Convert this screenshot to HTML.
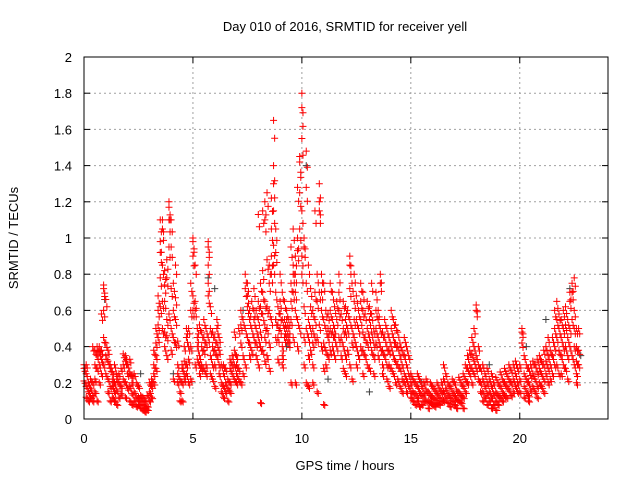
<!DOCTYPE html>
<html><head><meta charset="utf-8"><style>
body{margin:0;background:#fff;}
svg{display:block;font-family:"Liberation Sans",sans-serif;font-size:13px;}
</style></head><body>
<svg id="chart" width="640" height="480" viewBox="0 0 640 480">
<g id="grid"></g>
<g id="ticks"></g>
<g id="marks"></g>
<rect x="84" y="57" width="524" height="362" fill="none" stroke="#000" stroke-width="1"/>
<text x="345" y="31" text-anchor="middle">Day 010 of 2016, SRMTID for receiver yell</text>
<text x="345" y="470" text-anchor="middle">GPS time / hours</text>
<text transform="translate(18,238) rotate(-90)" text-anchor="middle">SRMTID / TECUs</text>
</svg>
<script>
const xTicks=[0,5,10,15,20];
const yTicks=[0,0.2,0.4,0.6,0.8,1,1.2,1.4,1.6,1.8,2];
const yTickLabels=["0","0.2","0.4","0.6","0.8","1","1.2","1.4","1.6","1.8","2"];
const greyPts=[[0.95,.66],[2.6,.25],[5.7,.78],[6.0,.72],[9.3,.4],[10.2,1.4],[11.2,.22],[12.6,.35],[13.1,.15],[20.3,.4],[22.3,.72],[22.8,.35],[8.8,.55],[7.3,.6],[4.1,.25],[15.5,.2],[18.6,.3],[21.2,.55]];
const redRows=[
[0.0,[.28,.21,.3]],[0.1,[.25,.18,.12,.3]],[0.2,[.2,.15,.1]],[0.3,[.17,.12,.22]],[0.4,[.13,.1,.2,.4]],[0.5,[.15,.3,.38,.22]],[0.6,[.35,.4,.28,.1]],[0.7,[.4,.3,.2,.37]],[0.8,[.38,.25,.33,.58]],[0.9,[.74,.72,.45,.6,.3]],
[1.0,[.66,.42,.35,.25]],[1.1,[.32,.22,.15,.38]],[1.2,[.28,.18,.1,.3]],[1.3,[.22,.12,.26,.18]],[1.4,[.2,.1,.3,.15]],[1.5,[.22,.16,.08,.25]],[1.6,[.2,.12,.25]],[1.7,[.18,.28,.14]],[1.8,[.3,.36,.22]],[1.9,[.35,.32,.2,.12]],
[2.0,[.3,.25,.17]],[2.1,[.26,.33,.18,.1]],[2.2,[.2,.14,.24,.08]],[2.3,[.15,.25,.1]],[2.4,[.2,.12,.07]],[2.5,[.12,.08,.18]],[2.6,[.1,.06,.13]],[2.7,[.08,.05,.12]],[2.8,[.1,.06,.04]],[2.9,[.07,.13,.05]],
[3.0,[.1,.2,.15]],[3.1,[.22,.18,.12]],[3.2,[.3,.25,.2,.38]],[3.3,[.42,.35,.5,.28]],[3.4,[.6,.52,.68,.45]],[3.5,[1.1,.92,.98,.78,.62]],[3.6,[1.05,1.1,.85,.65,.5]],[3.7,[.65,.48,.82,.74,.4]],[3.8,[.88,.78,.55,.46,.35]],[3.9,[1.2,1.17,1.1,.95,.58]],
[4.0,[1.1,.95,.72,.5,.38]],[4.1,[.75,.6,.45,.22]],[4.2,[.85,.67,.55,.42]],[4.3,[.43,.3,.2,.25]],[4.4,[.22,.1,.15]],[4.5,[.1,.2,.28,.3]],[4.6,[.25,.32,.22,.4]],[4.7,[.3,.45,.5,.25]],[4.8,[.5,.33,.4,.2]],[4.9,[.4,.75,.6,.22]],
[5.0,[1.0,.98,.9,.68,.6]],[5.1,[.65,.6,.85,.3]],[5.2,[.45,.5,.4,.33]],[5.3,[.52,.35,.3,.25]],[5.4,[.4,.3,.48,.28]],[5.5,[.38,.28,.45,.55]],[5.6,[.5,.42,.3,.25]],[5.7,[.98,.95,.85,.75,.68,.45]],[5.8,[.62,.5,.35,.25]],[5.9,[.48,.4,.22,.3]],
[6.0,[.38,.45,.3,.18]],[6.1,[.5,.42,.35,.55]],[6.2,[.45,.38,.3,.25]],[6.3,[.3,.2,.15]],[6.4,[.25,.18,.12,.3]],[6.5,[.2,.15,.28]],[6.6,[.22,.17,.1]],[6.7,[.33,.28,.2,.15]],[6.8,[.35,.3,.25]],[6.9,[.3,.38,.22,.48]],
[7.0,[.3,.25,.35,.2]],[7.1,[.28,.22,.5]],[7.2,[.6,.52,.42,.2]],[7.3,[.55,.35,.25]],[7.4,[.72,.8,.5,.3]],[7.5,[.75,.68,.62,.45]],[7.6,[.6,.55,.42,.35]],[7.7,[.65,.5,.38]],[7.8,[.6,.55,.45,.72]],[7.9,[.5,.42,.35,.6]],
[8.0,[.65,.55,.45,.3,1.13]],[8.1,[.75,.62,.48,.4,.09]],[8.2,[.7,.58,.38,.82,1.15]],[8.3,[.65,.52,.45,.32,1.1,1.2]],[8.4,[.88,.62,.5,.35,1.25]],[8.5,[.75,.6,.42,.85,.28]],[8.6,[1.05,.9,.8,.55,1.22]],[8.7,[1.65,1.4,1.3,1.15,.96,.85]],[8.8,[1.05,.92,.7,.55,.45]],[8.9,[.62,.52,.45,.33]],
[9.0,[.65,.58,.5,.8]],[9.1,[.7,.55,.4,.35,.3]],[9.2,[.65,.55,.5,.45]],[9.3,[.6,.5,.45,.55]],[9.4,[.55,.5,.45,.42]],[9.5,[.95,.75,.65,.55,.2]],[9.6,[.85,1.05,.8,.7,.45]],[9.7,[.8,.9,.7,.6,.2]],[9.8,[1.0,.93,1.28,.55,.4]],[9.9,[1.45,1.42,1.25,1.05,.5]],
[10.0,[1.8,1.72,1.55,1.15,.9,.8]],[10.1,[1.0,.95,.62,.45,.3]],[10.2,[1.48,1.28,.75,.5,.2]],[10.3,[.85,.55,.45,.35,.18]],[10.4,[.72,.62,.5,.38]],[10.5,[.6,.5,.42,.3,.2]],[10.6,[1.15,.7,.55,.45]],[10.7,[.8,.65,.45,.15]],[10.8,[1.3,1.2,1.15,.7,.52]],[10.9,[.8,.7,.6,.4]],
[11.0,[.75,.55,.42,.28,.08]],[11.1,[.6,.5,.38,.3]],[11.2,[.58,.5,.45,.35]],[11.3,[.75,.6,.5,.38]],[11.4,[.7,.55,.48,.4]],[11.5,[.62,.5,.45,.35]],[11.6,[.65,.55,.4]],[11.7,[.8,.7,.6,.45]],[11.8,[.58,.45,.35]],[11.9,[.65,.5,.4,.28]],
[12.0,[.62,.55,.48,.35,.25]],[12.1,[.6,.5,.38]],[12.2,[.9,.85,.72,.55,.3]],[12.3,[.75,.5,.42,.22]],[12.4,[.8,.65,.55,.45]],[12.5,[.68,.55,.4,.3]],[12.6,[.6,.5,.35]],[12.7,[.75,.65,.55,.4]],[12.8,[.7,.6,.48,.38,.25]],[12.9,[.58,.45,.35]],
[13.0,[.65,.5,.42,.3]],[13.1,[.62,.55,.45,.28]],[13.2,[.75,.58,.48,.38]],[13.3,[.5,.42,.35,.25]],[13.4,[.7,.6,.5,.42]],[13.5,[.6,.55,.45,.35]],[13.6,[.8,.75,.5,.4]],[13.7,[.48,.38,.3,.25]],[13.8,[.55,.45,.35]],[13.9,[.5,.4,.3,.22]],
[14.0,[.45,.38,.3,.18]],[14.1,[.6,.5,.4,.28]],[14.2,[.55,.45,.35,.25]],[14.3,[.52,.42,.32,.2]],[14.4,[.48,.4,.3,.22]],[14.5,[.42,.35,.28,.18]],[14.6,[.38,.3,.22,.15]],[14.7,[.45,.35,.25,.2]],[14.8,[.4,.3,.22,.15]],[14.9,[.35,.25,.18]],
[15.0,[.25,.2,.15,.12]],[15.1,[.22,.15,.1]],[15.2,[.2,.14,.08]],[15.3,[.25,.18,.12,.1]],[15.4,[.22,.15,.07]],[15.5,[.18,.13,.08]],[15.6,[.2,.14,.1]],[15.7,[.22,.16,.1]],[15.8,[.15,.1,.06]],[15.9,[.2,.13,.09]],
[16.0,[.18,.12,.08]],[16.1,[.16,.11,.07]],[16.2,[.2,.14,.09]],[16.3,[.17,.12,.08]],[16.4,[.2,.15,.1]],[16.5,[.3,.22,.15,.1]],[16.6,[.25,.17,.12]],[16.7,[.2,.14,.09]],[16.8,[.18,.12,.07]],[16.9,[.22,.15,.1]],
[17.0,[.2,.13,.08]],[17.1,[.16,.11,.06]],[17.2,[.23,.15,.1]],[17.3,[.2,.13,.09]],[17.4,[.25,.18,.12,.06]],[17.5,[.3,.22,.15]],[17.6,[.35,.28,.2]],[17.7,[.38,.3,.25]],[17.8,[.45,.36,.28,.2]],[17.9,[.5,.4,.32,.25]],
[18.0,[.63,.6,.35,.28]],[18.1,[.4,.3,.22]],[18.2,[.28,.2,.15]],[18.3,[.3,.22,.15,.1]],[18.4,[.25,.18,.12]],[18.5,[.28,.2,.14,.08]],[18.6,[.22,.15,.1]],[18.7,[.25,.18,.12,.06]],[18.8,[.2,.14,.08]],[18.9,[.23,.15,.1,.05]],
[19.0,[.2,.13,.08]],[19.1,[.26,.18,.12]],[19.2,[.22,.15,.1]],[19.3,[.28,.2,.13]],[19.4,[.25,.18,.12]],[19.5,[.3,.22,.16]],[19.6,[.27,.2,.13]],[19.7,[.3,.22,.15]],[19.8,[.32,.25,.18]],[19.9,[.28,.2,.15]],
[20.0,[.3,.22,.15]],[20.1,[.5,.48,.42]],[20.2,[.35,.25,.18,.12]],[20.3,[.3,.22,.15]],[20.4,[.28,.2,.13,.1]],[20.5,[.3,.24,.16]],[20.6,[.32,.25,.18]],[20.7,[.3,.22,.15]],[20.8,[.33,.26,.18,.12]],[20.9,[.35,.28,.2]],
[21.0,[.32,.25,.18]],[21.1,[.38,.3,.22,.15]],[21.2,[.4,.32,.25]],[21.3,[.45,.35,.28,.2]],[21.4,[.38,.3,.22]],[21.5,[.45,.35,.25]],[21.6,[.6,.5,.4,.3]],[21.7,[.65,.55,.45,.3]],[21.8,[.58,.5,.38,.25]],[21.9,[.55,.45,.35,.25]],
[22.0,[.6,.5,.4,.3]],[22.1,[.62,.52,.4,.28]],[22.2,[.55,.45,.35,.22]],[22.3,[.7,.65,.5,.4]],[22.4,[.75,.7,.55,.35]],[22.5,[.78,.6,.5,.4,.3]],[22.6,[.5,.4,.32,.25,.2]],[22.7,[.5,.38,.3]]
];
const NS="http://www.w3.org/2000/svg";
const X0=84,X1=608,Y0=419,Y1=57,XMAX=24.05,YMAX=2;
function xs(v){return X0+(X1-X0)*v/XMAX;}
function ys(v){return Y0-(Y0-Y1)*v/YMAX;}
function mk(tag,attrs,parent){const e=document.createElementNS(NS,tag);for(const k in attrs)e.setAttribute(k,attrs[k]);parent.appendChild(e);return e;}
const grid=document.getElementById('grid'),ticks=document.getElementById('ticks'),marks=document.getElementById('marks');
xTicks.forEach((t,i)=>{
  const x=xs(t);
  if(t>0){const g=mk('line',{x1:x,x2:x,y1:Y1,y2:Y0,stroke:'#a0a0a0','stroke-dasharray':'2,3'},grid);
  
  }
  mk('line',{x1:x,x2:x,y1:Y0,y2:Y0-6,stroke:'#000'},ticks);
  mk('line',{x1:x,x2:x,y1:Y1,y2:Y1+6,stroke:'#000'},ticks);
  const l=mk('text',{x:x,y:443,'text-anchor':'middle'},ticks);l.textContent=String(t);
  
  
});
yTicks.forEach((t,i)=>{
  const y=ys(t);
  if(t>0&&t<2){const g=mk('line',{x1:X0,x2:X1,y1:y,y2:y,stroke:'#a0a0a0','stroke-dasharray':'2,3'},grid);
  
  }
  mk('line',{x1:X0,x2:X0+6,y1:y,y2:y,stroke:'#000'},ticks);
  mk('line',{x1:X1,x2:X1-6,y1:y,y2:y,stroke:'#000'},ticks);
  const l=mk('text',{x:72,y:y+5,'text-anchor':'end'},ticks);l.textContent=yTickLabels[i];
  
  
});
function plus(h,v,col){
  const x=xs(h),y=ys(v);
  const p=mk('path',{d:`M${x-3.5},${y}H${x+3.5}M${x},${y-3.5}V${y+3.5}`,stroke:col,'stroke-width':1,fill:'none'},marks);
  
  
}
greyPts.forEach(p=>plus(p[0],p[1],'#404040'));
redRows.forEach(r=>r[1].forEach(v=>plus(r[0],v,'#ff0000')));
redRows.forEach(r=>r[1].forEach(v=>plus(r[0]+0.05,v*0.94,'#ff0000')));
</script>
</body></html>
